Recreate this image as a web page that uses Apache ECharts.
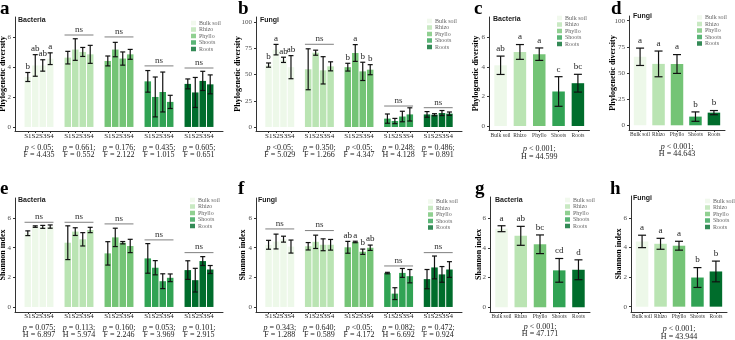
<!DOCTYPE html>
<html>
<head>
<meta charset="utf-8">
<script src="https://cdn.jsdelivr.net/npm/echarts@6/dist/echarts.min.js"></script>
<style>
  html, body { margin: 0; padding: 0; background: #fff; }
  #main { width: 735px; height: 340px; }
</style>
</head>
<body>
<div id="main"></div>
<script>
var compartments = ['Bulk soil', 'Rhizo', 'Phyllo', 'Shoots', 'Roots'];
var seasons = ['S1', 'S2', 'S3', 'S4'];
var greens = ['#edf8e9', '#bae4b3', '#74c476', '#31a354', '#006d2c'];
var ticksSmall = [0, 2, 4, 6];
var ticksLarge = [0, 25, 50, 75, 100];

// a - bacteria, phylogenetic diversity per season (rows = compartment, cols = S1..S4)
var aMean = [
  [3.33, 4.1, 4.1, 4.55],
  [4.62, 5.16, 5.0, 4.84],
  [4.4, 5.16, 4.56, 4.84],
  [3.04, 2.0, 2.33, 1.67],
  [2.87, 2.3, 3.07, 2.84]
];
var aSd = [
  [0.3, 0.72, 0.38, 0.39],
  [0.42, 0.72, 0.3, 0.6],
  [0.33, 0.48, 0.44, 0.33],
  [0.72, 1.33, 1.33, 0.44],
  [0.33, 1.0, 0.64, 0.63]
];
var aLetters = [['b', 'ab', 'ab', 'a'], null, null, null, null];
var aNs = [null, 6.13, 6.0, 4.07, 3.93];
var aStats = [['p < 0.05;', 'F = 4.435'], ['p = 0.661;', 'F = 0.552'], ['p = 0.176;', 'F = 2.122'], ['p = 0.435;', 'F = 1.015'], ['p = 0.605;', 'F = 0.651']];

// b - fungi, phylogenetic diversity per season
var bMean = [
  [59, 73.7, 64, 57],
  [55, 70.8, 54, 57.8],
  [57, 70.5, 53, 54.6],
  [8, 5.7, 10, 12],
  [12, 11.7, 13.3, 12.7]
];
var bSd = [
  [2, 5, 2.5, 11],
  [19.5, 2.4, 13, 4.3],
  [3.7, 8, 8.7, 4.8],
  [4.4, 2.5, 5, 6.3],
  [2.7, 1, 2.4, 1.6]
];
var bLetters = [['b', 'a', 'ab', 'ab'], null, ['b', 'a', 'b', 'b'], null, null];
var bNs = [null, 78.8, null, 20, 18.4];
var bStats = [['p <0.05;', 'F = 5.029'], ['p = 0.350;', 'F = 1.266'], ['p <0.05;', 'F = 4.347'], ['p = 0.248;', 'H = 4.128'], ['p = 0.486;', 'F = 0.891']];

// c - bacteria, phylogenetic diversity per compartment
var cMean = [4.1, 5.0, 4.85, 2.33, 2.89];
var cSd = [0.62, 0.5, 0.42, 1.0, 0.6];
var cLetters = ['ab', 'a', 'a', 'c', 'bc'];
var cStats = ['p < 0.001;', 'H = 44.599'];

// d - fungi, phylogenetic diversity per compartment
var dMean = [65.5, 58.7, 58.6, 8.3, 12.1];
var dSd = [8.3, 12.3, 9, 4.5, 2];
var dLetters = ['a', 'a', 'a', 'b', 'b'];
var dStats = ['p < 0.001;', 'H = 44.643'];

// e - bacteria, Shannon index per season
var eMean = [
  [4.98, 5.43, 5.41, 5.43],
  [4.34, 5.09, 4.57, 5.2],
  [3.62, 4.7, 4.34, 4.12],
  [3.28, 2.65, 1.74, 1.97],
  [2.49, 1.81, 3.1, 2.53]
];
var eSd = [
  [0.16, 0.05, 0.1, 0.11],
  [1.14, 0.26, 0.45, 0.18],
  [0.79, 0.62, 0.08, 0.45],
  [1.0, 0.48, 0.5, 0.26],
  [0.63, 0.8, 0.3, 0.27]
];
var eLetters = [null, null, null, null, null];
var eNs = [5.72, 5.72, 5.61, 4.53, 3.67];
var eStats = [['p = 0.075;', 'H = 6.897'], ['p = 0.113;', 'H = 5.974'], ['p = 0.160;', 'F = 2.246'], ['p = 0.053;', 'F = 3.969'], ['p = 0.101;', 'F = 2.915']];

// f - fungi, Shannon index per season
var fMean = [
  [4.2, 4.42, 4.58, 4.08],
  [4.1, 4.4, 4.2, 4.2],
  [4.03, 4.39, 3.73, 4.0],
  [2.29, 0.9, 2.3, 2.08],
  [1.88, 2.67, 2.2, 2.53]
];
var fSd = [
  [0.3, 0.5, 0.2, 0.44],
  [0.25, 0.45, 0.4, 0.36],
  [0.4, 0.05, 0.18, 0.18],
  [0.05, 0.4, 0.3, 0.45],
  [0.65, 0.77, 0.53, 0.53]
];
var fLetters = [null, null, ['ab', 'a', 'b', 'ab'], null, null];
var fNs = [5.27, 5.16, null, 2.77, 3.67];
var fStats = [['p = 0.343;', 'F = 1.288'], ['p = 0.640;', 'F = 0.589'], ['p <0.05;', 'F = 4.172'], ['p = 0.082;', 'H = 6.692'], ['p = 0.472;', 'F = 0.924']];

// g - bacteria, Shannon index per compartment
var gMean = [5.3, 4.82, 4.25, 2.49, 2.53];
var gSd = [0.2, 0.64, 0.63, 0.8, 0.67];
var gLetters = ['a', 'ab', 'bc', 'cd', 'd'];
var gStats = ['p < 0.001;', 'H = 47.171'];

// h - fungi, Shannon index per compartment
var hMean = [4.41, 4.25, 4.12, 1.97, 2.38];
var hSd = [0.42, 0.37, 0.3, 0.67, 0.7];
var hLetters = ['a', 'a', 'a', 'b', 'b'];
var hStats = ['p < 0.001;', 'H = 43.944'];

var SERIF = '"Liberation Serif", "Times New Roman", serif';
var SANS = '"Liberation Sans", Arial, sans-serif';
var BAR_W = 6.5, BAR_GAP = 0.15, PITCH = BAR_W * (1 + BAR_GAP);
var COL_W = 12.5;
var PHYLO = 'Phylogenetic diversity', SHANNON = 'Shannon index';

var panels = [
  { tag: 'a', org: 'Bacteria', grouped: true, mean: aMean, sd: aSd, letters: aLetters, ns: aNs, stats: aStats,
    yName: PHYLO, yTicks: ticksSmall, yRange: [-0.27, 7.33], nameGap: 8,
    grid: { left: 15, top: 17, width: 208, height: 114 }, tagAt: [0, 0], orgAt: [18, 16.5], legendAt: [191, 20], labelMargin: -3 },
  { tag: 'b', org: 'Fungi', grouped: true, mean: bMean, sd: bSd, letters: bLetters, ns: bNs, stats: bStats,
    yName: PHYLO, yTicks: ticksLarge, yRange: [-3.8, 104.8], nameGap: 14,
    grid: { left: 256, top: 17, width: 206, height: 114 }, tagAt: [238, 0], orgAt: [260, 16.5], legendAt: [427, 18], labelMargin: -3 },
  { tag: 'c', org: 'Bacteria', grouped: false, mean: cMean, sd: cSd, letters: cLetters, stats: cStats,
    yName: PHYLO, yTicks: ticksSmall, yRange: [-0.27, 7.36], nameGap: 9,
    grid: { left: 489, top: 17, width: 100.5, height: 113 }, tagAt: [474, 0], orgAt: [493, 15.5], legendAt: [557, 15], labelMargin: 3, statGap: 15.5 },
  { tag: 'd', org: 'Fungi', grouped: false, mean: dMean, sd: dSd, letters: dLetters, stats: dStats,
    yName: PHYLO, yTicks: ticksLarge, yRange: [-4.5, 104.5], nameGap: 12,
    grid: { left: 629, top: 16, width: 96, height: 114 }, tagAt: [611, 0], orgAt: [633, 12.5], legendAt: [697, 14.5], labelMargin: 2, statGap: 13 },
  { tag: 'e', org: 'Bacteria', grouped: true, mean: eMean, sd: eSd, letters: eLetters, ns: eNs, stats: eStats,
    yName: SHANNON, yTicks: ticksSmall, yRange: [-0.34, 7.36], nameGap: 8,
    grid: { left: 15, top: 198, width: 208, height: 114 }, tagAt: [0, 180], orgAt: [18, 197], legendAt: [190, 197], labelMargin: -4 },
  { tag: 'f', org: 'Fungi', grouped: true, mean: fMean, sd: fSd, letters: fLetters, ns: fNs, stats: fStats,
    yName: SHANNON, yTicks: ticksSmall, yRange: [-0.34, 7.36], nameGap: 9,
    grid: { left: 256, top: 198, width: 206, height: 114 }, tagAt: [238, 180], orgAt: [258, 196.5], legendAt: [428, 198.5], labelMargin: -4 },
  { tag: 'g', org: 'Bacteria', grouped: false, mean: gMean, sd: gSd, letters: gLetters, stats: gStats,
    yName: SHANNON, yTicks: ticksSmall, yRange: [-0.32, 7.44], nameGap: 7,
    grid: { left: 490, top: 197, width: 100, height: 115 }, tagAt: [475, 180], orgAt: [495, 196.5], legendAt: [565, 197], labelMargin: 1.5, statGap: 11 },
  { tag: 'h', org: 'Fungi', grouped: false, mean: hMean, sd: hSd, letters: hLetters, stats: hStats,
    yName: SHANNON, yTicks: ticksSmall, yRange: [-0.36, 7.48], nameGap: 8,
    grid: { left: 631, top: 196, width: 96, height: 116 }, tagAt: [610, 180], orgAt: [633, 194.5], legendAt: [705, 198], labelMargin: 1.5, statGap: 13.5 }
];

var statRich = {
  i: { fontFamily: SERIF, fontStyle: 'italic', fontSize: 8, color: '#222', lineHeight: 7.5 },
  t: { fontFamily: SERIF, fontSize: 8, color: '#222', lineHeight: 7.5 },
  s: { fontFamily: SERIF, fontSize: 7, color: '#222', lineHeight: 16 }
};
function statText(lines) {
  return '{i|' + lines[0].charAt(0) + '}{t|' + lines[0].slice(1) + '}\n{t|' + lines[1] + '}';
}

function errorBars(letters, capW, lift) {
  return function (params, api) {
    var g = api.value(0), m = api.value(1), sd = api.value(2), off = api.value(3);
    var top = api.coord([g, m + sd]);
    var bot = api.coord([g, m - sd]);
    var x = top[0] + off * PITCH;
    var st = { stroke: '#111', lineWidth: 1.2 };
    var kids = [
      { type: 'line', shape: { x1: x, y1: top[1], x2: x, y2: bot[1] }, style: st },
      { type: 'line', shape: { x1: x - capW / 2, y1: top[1], x2: x + capW / 2, y2: top[1] }, style: st },
      { type: 'line', shape: { x1: x - capW / 2, y1: bot[1], x2: x + capW / 2, y2: bot[1] }, style: st }
    ];
    var lab = letters[params.dataIndex];
    if (lab) {
      kids.push({ type: 'text', x: x, y: top[1] - lift,
        style: { text: lab, fontFamily: SERIF, fontSize: 9, fill: '#222',
          align: 'center', verticalAlign: 'bottom', textAlign: 'center', textVerticalAlign: 'bottom' } });
    }
    return { type: 'group', children: kids };
  };
}

function nsBracket(params, api) {
  var c = api.coord([api.value(0), api.value(1)]);
  var half = 2 * PITCH - (PITCH - BAR_W) / 2;
  return { type: 'group', children: [
    { type: 'line', shape: { x1: c[0] - half, y1: c[1], x2: c[0] + half, y2: c[1] }, style: { stroke: '#7f7f7f', lineWidth: 1 } },
    { type: 'text', x: c[0], y: c[1] - 1,
      style: { text: 'ns', fontFamily: SERIF, fontSize: 9, fill: '#333',
        align: 'center', verticalAlign: 'bottom', textAlign: 'center', textVerticalAlign: 'bottom' } }
  ] };
}

var option = {
  animation: false,
  backgroundColor: '#fff',
  title: [], legend: [], grid: [], xAxis: [], yAxis: [], series: []
};

// legend entries only
compartments.forEach(function (n, i) {
  option.series.push({ type: 'scatter', name: n, data: [], itemStyle: { color: greens[i] } });
});

panels.forEach(function (p, k) {
  var g5 = [1, 2, 3, 4, 5];
  option.grid.push({ left: p.grid.left, top: p.grid.top, width: p.grid.width, height: p.grid.height,
    containLabel: false, outerBoundsMode: 'none' });
  option.title.push({ text: p.tag, left: p.tagAt[0], top: p.tagAt[1], padding: 0,
    textStyle: { fontFamily: SERIF, fontWeight: 'bold', fontSize: 19, color: '#000' } });
  option.title.push({ text: p.org, left: p.orgAt[0], top: p.orgAt[1], padding: 0,
    textStyle: { fontFamily: SANS, fontWeight: 'bold', fontSize: 7, color: '#1a1a1a' } });
  option.legend.push({ orient: 'vertical', left: p.legendAt[0], top: p.legendAt[1], padding: 0,
    itemWidth: 5, itemHeight: 4.5, itemGap: 0.5, icon: 'rect', selectedMode: false, data: compartments,
    textStyle: { fontFamily: SERIF, fontSize: 6, color: '#666', lineHeight: 5, padding: [0, 0, 0, -2] } });

  var unit = p.grid.width / 5.2;
  var xAxis = {
    gridIndex: k, type: 'value', min: 0.4, max: 5.6,
    axisLine: { onZero: false, lineStyle: { color: '#333', width: 1 } },
    splitLine: { show: false }
  };
  if (p.grouped) {
    var barTicks = [];
    g5.forEach(function (g) {
      seasons.forEach(function (s, i) { barTicks.push(g + (i - 1.5) * PITCH / unit); });
    });
    xAxis.axisTick = { length: 2, lineStyle: { color: '#333' }, customValues: barTicks };
    xAxis.axisLabel = {
      customValues: g5, margin: p.labelMargin, rich: statRich,
      formatter: function (v) {
        return '{s|' + seasons.join('') + '}\n' + statText(p.stats[Math.round(v) - 1]);
      }
    };
  } else {
    xAxis.axisTick = { length: 2, lineStyle: { color: '#333' }, customValues: g5 };
    xAxis.axisLabel = {
      customValues: g5, margin: p.labelMargin, fontFamily: SERIF, fontSize: 5.5, color: '#333',
      formatter: function (v) { return compartments[Math.round(v) - 1]; }
    };
    xAxis.name = statText(p.stats);
    xAxis.nameLocation = 'middle';
    xAxis.nameGap = p.statGap;
    xAxis.nameMoveOverlap = false;
    xAxis.nameTextStyle = { rich: statRich, align: 'center' };
  }
  option.xAxis.push(xAxis);

  option.yAxis.push({
    gridIndex: k, type: 'value', min: p.yRange[0], max: p.yRange[1],
    axisLine: { show: true, onZero: false, lineStyle: { color: '#333', width: 1 } },
    axisTick: { show: true, length: 2, lineStyle: { color: '#333' }, customValues: p.yTicks },
    axisLabel: { customValues: p.yTicks, fontFamily: SERIF, fontSize: 7, color: '#4d4d4d', margin: 4 },
    splitLine: { show: false },
    name: p.yName, nameLocation: 'middle', nameGap: p.nameGap, nameMoveOverlap: false,
    nameTextStyle: { fontFamily: SERIF, fontWeight: 'bold', fontSize: 8, color: '#000' }
  });

  var errData = [], flatLetters = [];
  if (p.grouped) {
    seasons.forEach(function (sName, s) {
      option.series.push({
        type: 'bar', name: sName, xAxisIndex: k, yAxisIndex: k, barWidth: BAR_W,
        barGap: (BAR_GAP * 100) + '%', silent: true,
        data: p.mean.map(function (row, g) {
          return { value: [g + 1, row[s]], itemStyle: { color: greens[g] } };
        })
      });
    });
    p.mean.forEach(function (row, g) {
      row.forEach(function (v, s) {
        errData.push([g + 1, v, p.sd[g][s], s - 1.5]);
        flatLetters.push(p.letters[g] ? p.letters[g][s] : null);
      });
    });
    option.series.push({ type: 'custom', xAxisIndex: k, yAxisIndex: k, data: errData, silent: true, z: 3,
      renderItem: errorBars(flatLetters, 5, 1.5) });
    option.series.push({ type: 'custom', xAxisIndex: k, yAxisIndex: k, silent: true, z: 3,
      data: p.ns.map(function (y, g) { return y == null ? null : [g + 1, y]; }).filter(Boolean),
      renderItem: nsBracket });
  } else {
    option.series.push({
      type: 'bar', name: p.tag, xAxisIndex: k, yAxisIndex: k, barWidth: COL_W, silent: true,
      data: p.mean.map(function (v, g) { return { value: [g + 1, v], itemStyle: { color: greens[g] } }; })
    });
    p.mean.forEach(function (v, g) { errData.push([g + 1, v, p.sd[g], 0]); });
    option.series.push({ type: 'custom', xAxisIndex: k, yAxisIndex: k, data: errData, silent: true, z: 3,
      renderItem: errorBars(p.letters, 8, 3) });
  }
});

var chart = echarts.init(document.getElementById('main'), null, { renderer: 'canvas' });
chart.setOption(option);
</script>
</body>
</html>
